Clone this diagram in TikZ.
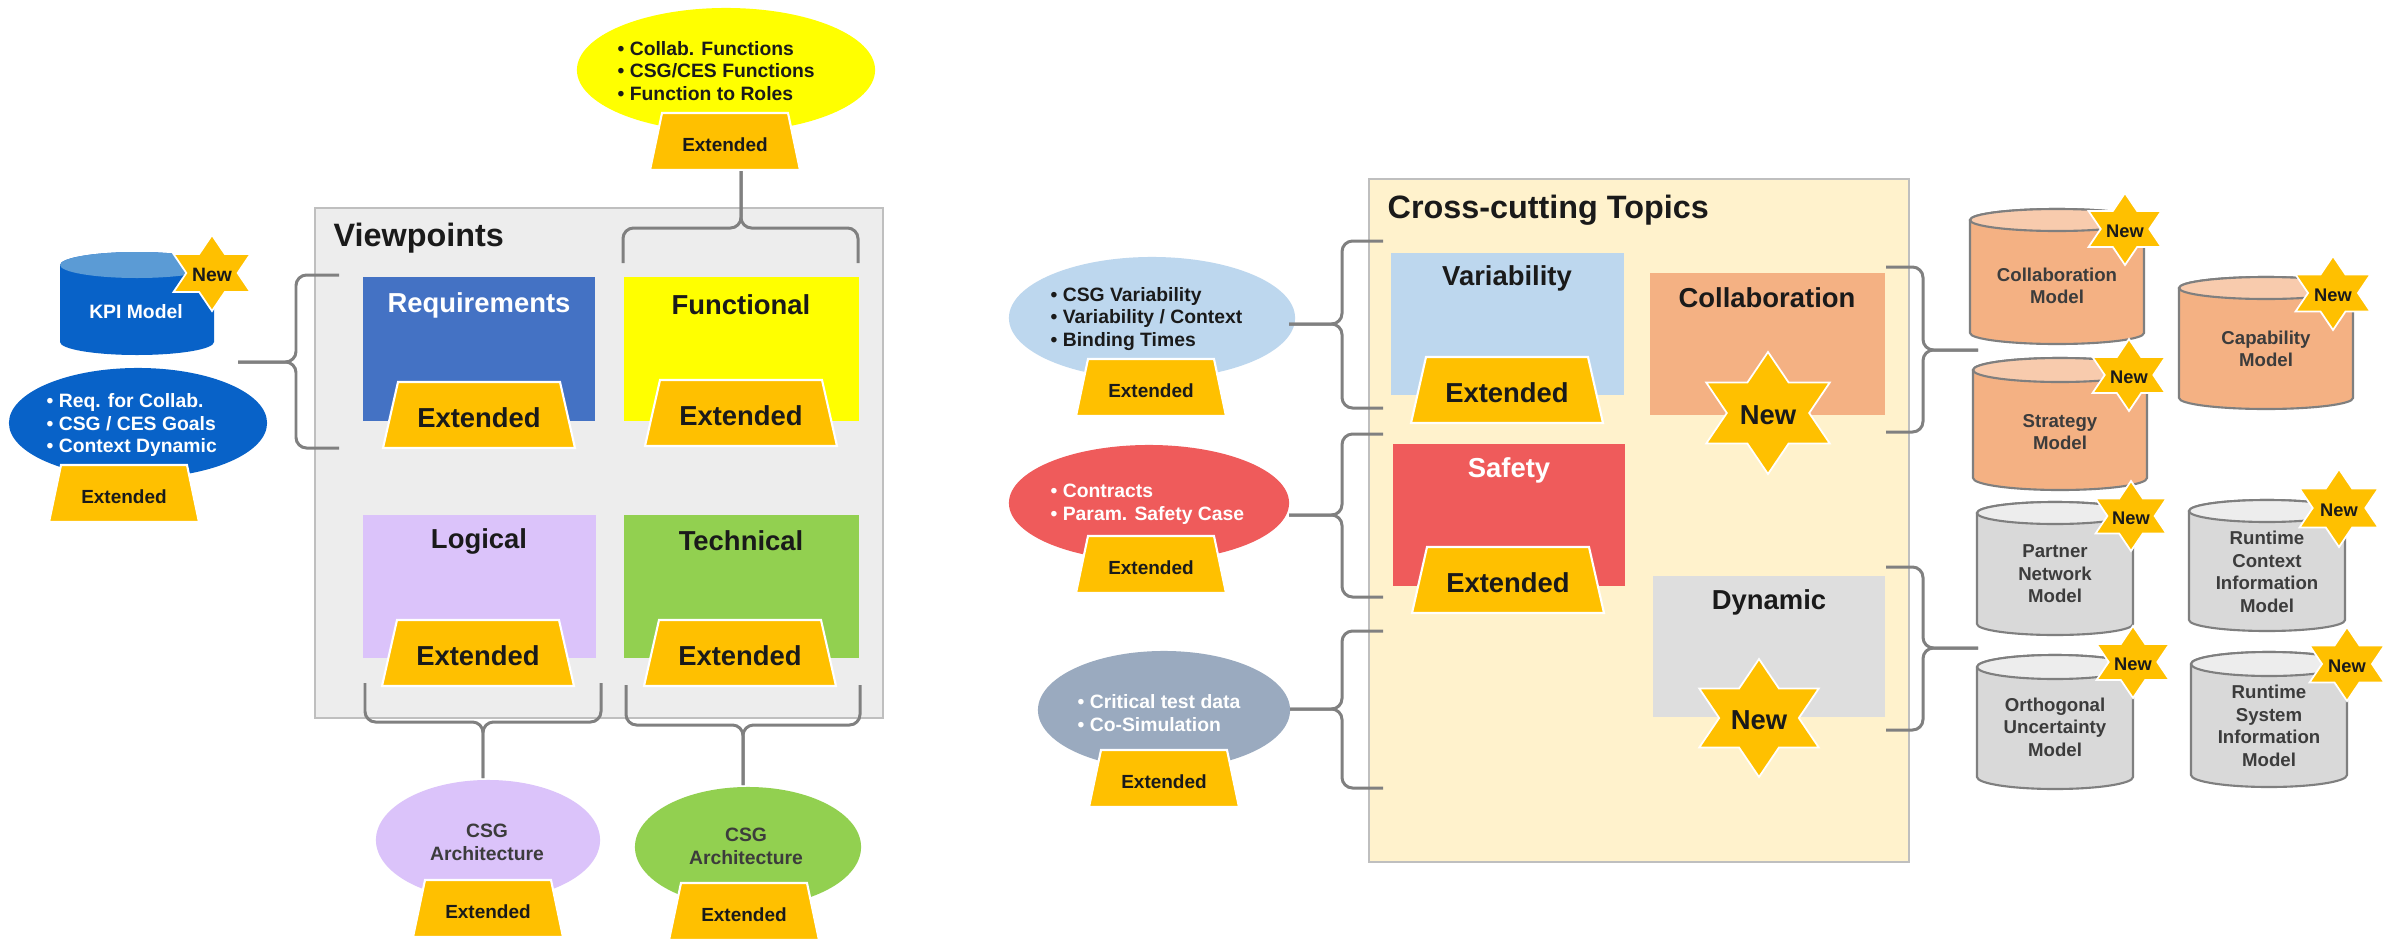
\documentclass[tikz,border=0pt]{standalone}
\usepackage{fontspec}
\setmainfont{Liberation Sans}
\usetikzlibrary{shapes.geometric}
\definecolor{gold}{HTML}{FFC000}
\definecolor{vyellow}{HTML}{FFFF00}
\definecolor{reqblue}{HTML}{4472C4}
\definecolor{lav}{HTML}{DBC3FA}
\definecolor{vgreen}{HTML}{92D050}
\definecolor{kpiblue}{HTML}{0862C8}
\definecolor{kpitopc}{HTML}{5B9BD5}
\definecolor{vpgray}{HTML}{EDEDED}
\definecolor{boxborder}{HTML}{BFBFBF}
\definecolor{cream}{HTML}{FFF2CC}
\definecolor{varblue}{HTML}{BDD7EE}
\definecolor{collabor}{HTML}{F4B183}
\definecolor{collabtop}{HTML}{F8CBAD}
\definecolor{safred}{HTML}{EF5B5B}
\definecolor{dyngray}{HTML}{DEDEDE}
\definecolor{gbell}{HTML}{9AAABF}
\definecolor{cylgray}{HTML}{D9D9D9}
\definecolor{cylgraytop}{HTML}{EDEDED}
\definecolor{cylline}{HTML}{7F7F7F}
\definecolor{bracegray}{HTML}{808080}
\definecolor{txtdark}{HTML}{1A1A1A}

\newcommand{\BigTrap}[3]{%
  \path[trapfill] ({#2-81},-#3) -- ({#2+81},-#3) -- ({#2+96},{-#3-66}) -- ({#2-96},{-#3-66}) -- cycle;
  \node[bigtext] (#1) at (#2,{-#3-36}) {Extended};}
\newcommand{\SmallTrap}[3]{%
  \path[trapfill] ({#2-63},-#3) -- ({#2+63},-#3) -- ({#2+75},{-#3-57}) -- ({#2-75},{-#3-57}) -- cycle;
  \node[smalltext] (#1) at (#2,{-#3-32}) {Extended};}
\newcommand{\StarNew}[5]{%
  \path[starfill, shift={(#2,-#3)}, scale=#4] (0,1) -- (0.338,0.5) -- (1.013,0.5) -- (0.675,0) -- (1.013,-0.5) -- (0.338,-0.5) -- (0,-1) -- (-0.338,-0.5) -- (-1.013,-0.5) -- (-0.675,0) -- (-1.013,0.5) -- (-0.338,0.5) -- cycle;
  \node[font=\bfseries\fontsize{#5}{#5}\selectfont, text=txtdark, inner sep=0] (#1) at (#2,{-#3-2}) {New};}
\newcommand{\CylShape}[7]{%
  \path[#7body] ({#2-#5},-#3) -- ({#2-#5},-#4) arc[start angle=180, end angle=360, x radius=#5*0.01cm, y radius=#6*0.01cm] -- ({#2+#5},-#3) arc[start angle=0, end angle=180, x radius=#5*0.01cm, y radius=#6*0.01cm] -- cycle;
  \path[#7top] (#2,-#3) ellipse [x radius=#5*0.01cm, y radius=#6*0.01cm];
  \coordinate (#1) at (#2,-#3);}

\begin{document}
\begin{tikzpicture}[x=0.01cm, y=0.01cm,
  bigtext/.style={font=\bfseries\fontsize{7.8}{9}\selectfont, text=txtdark, inner sep=0},
  smalltext/.style={font=\bfseries\fontsize{5.4}{6.4}\selectfont, text=txtdark, inner sep=0},
  listtext/.style={font=\bfseries\fontsize{5.5}{6.4}\selectfont, align=left, anchor=west, inner sep=0},
  cyltext/.style={font=\bfseries\fontsize{5.3}{6.4}\selectfont, align=center, text=txtdark!85, inner sep=0},
  titletext/.style={font=\bfseries\fontsize{9.2}{11}\selectfont, anchor=west, text=txtdark, inner sep=0},
  boxtitle/.style={font=\bfseries\fontsize{7.8}{9}\selectfont, text=txtdark, inner sep=0},
  trapfill/.style={fill=gold, draw=white, line width=0.6pt},
  starfill/.style={fill=gold, draw=white, line width=0.5pt},
  brace/.style={draw=bracegray, line width=0.85pt, rounded corners=3pt},
  ell/.style={ellipse, inner sep=0, draw=none},
  vbox/.style={rectangle, inner sep=0, outer sep=0, draw=none, anchor=north west},
  orbody/.style={fill=collabor, draw=cylline, line width=0.6pt},
  ortop/.style={fill=collabtop, draw=cylline, line width=0.6pt},
  grbody/.style={fill=cylgray, draw=cylline, line width=0.6pt},
  grtop/.style={fill=cylgraytop, draw=cylline, line width=0.6pt},
  kpibody/.style={fill=kpiblue},
  kpitop/.style={fill=kpitopc},
]
\useasboundingbox (0,0) rectangle (2399,-939);
\fill[white] (0,0) rectangle (2399,-939);

% ===================== LEFT: Viewpoints =====================
\node[vbox, fill=vpgray, draw=boxborder, line width=0.6pt, minimum width=5.68cm, minimum height=5.10cm] (vp) at (315,-208) {};
\node[titletext] (vptitle) at (333,-238) {Viewpoints};

\node[vbox, fill=reqblue, minimum width=2.32cm, minimum height=1.44cm] (req) at (363,-277) {};
\node[boxtitle, text=white] (reqt) at (479,-305) {Requirements};
\node[vbox, fill=vyellow, minimum width=2.35cm, minimum height=1.44cm] (func) at (624,-277) {};
\node[boxtitle] (funct) at (741,-305) {Functional};
\node[vbox, fill=lav, minimum width=2.33cm, minimum height=1.43cm] (logi) at (363,-515) {};
\node[boxtitle] (logit) at (479,-541) {Logical};
\node[vbox, fill=vgreen, minimum width=2.35cm, minimum height=1.43cm] (tech) at (624,-515) {};
\node[boxtitle] (techt) at (741,-541) {Technical};

\BigTrap{reqx}{479}{382}
\BigTrap{funcx}{741}{380}
\BigTrap{logix}{478}{620}
\BigTrap{techx}{740}{620}

% yellow ellipse on top
\node[ell, fill=vyellow, minimum width=2.98cm, minimum height=1.24cm] (yell) at (726,-70) {};
\node[listtext, text=txtdark] (yellt) at (617,-71) {• Collab. Functions\\• CSG/CES Functions\\• Function to Roles};
\SmallTrap{yellx}{725}{113}

% top brace
\coordinate (fbstem) at (741,-171);
\coordinate (fbmid) at (741,-228);
\coordinate (fbl) at (623,-263);
\coordinate (fbr) at (858,-263);
\draw[brace] (fbl) |- (fbmid) -- (fbstem);
\draw[brace] (fbr) |- (fbmid) -- (fbstem);

% KPI cylinder
\CylShape{kpi}{137}{265}{342}{77}{13}{kpi}
\node[font=\bfseries\fontsize{5.5}{6.4}\selectfont, text=white, inner sep=0] (kpit) at (136,-312) {KPI Model};
\StarNew{kpistar}{212}{273}{38}{5.5}

% blue ellipse
\node[ell, fill=kpiblue, minimum width=2.58cm, minimum height=1.10cm] (bell) at (138,-423) {};
\node[listtext, text=white] (bellt) at (46,-425) {• Req. for Collab.\\• CSG / CES Goals\\• Context Dynamic};
\SmallTrap{bellx}{124}{465}

% KPI brace
\coordinate (kbt) at (339,-275);
\coordinate (kbb) at (339,-448);
\coordinate (kbm) at (296,-362);
\coordinate (kbtip) at (238,-362);
\draw[brace] (kbt) -| (kbm) -- (kbtip);
\draw[brace] (kbb) -| (kbm) -- (kbtip);

% Logical brace
\coordinate (lbl) at (365,-683);
\coordinate (lbr) at (601,-683);
\coordinate (lbm) at (483,-722);
\coordinate (lbstem) at (483,-778);
\draw[brace] (lbl) |- (lbm) -- (lbstem);
\draw[brace] (lbr) |- (lbm) -- (lbstem);
% Technical brace
\coordinate (tbl) at (626,-685);
\coordinate (tbr) at (860,-685);
\coordinate (tbm) at (743,-725);
\coordinate (tbstem) at (743,-785);
\draw[brace] (tbl) |- (tbm) -- (tbstem);
\draw[brace] (tbr) |- (tbm) -- (tbstem);

% lavender / green ellipses
\node[ell, fill=lav, minimum width=2.24cm, minimum height=1.20cm] (lell) at (488,-840) {};
\node[cyltext, font=\bfseries\fontsize{5.5}{6.6}\selectfont] (lellt) at (487,-842) {CSG\\Architecture};
\SmallTrap{lellx}{488}{880}
\node[ell, fill=vgreen, minimum width=2.26cm, minimum height=1.20cm] (gell) at (748,-847) {};
\node[cyltext, font=\bfseries\fontsize{5.5}{6.6}\selectfont] (gellt) at (746,-846) {CSG\\Architecture};
\SmallTrap{gellx}{744}{883}

% ===================== MIDDLE: Cross-cutting =====================
\node[vbox, fill=cream, draw=boxborder, line width=0.6pt, minimum width=5.40cm, minimum height=6.83cm] (cc) at (1369,-179) {};
\node[titletext] (cctitle) at (1387,-210) {Cross-cutting Topics};

\node[vbox, fill=varblue, minimum width=2.33cm, minimum height=1.42cm] (var) at (1391,-253) {};
\node[boxtitle] (vart) at (1507,-278) {Variability};
\node[vbox, fill=collabor, minimum width=2.35cm, minimum height=1.42cm] (col) at (1650,-273) {};
\node[boxtitle] (colt) at (1767,-298) {Collaboration};
\node[vbox, fill=safred, minimum width=2.32cm, minimum height=1.42cm] (saf) at (1393,-444) {};
\node[boxtitle, text=white] (saft) at (1509,-470) {Safety};
\node[vbox, fill=dyngray, minimum width=2.32cm, minimum height=1.41cm] (dyn) at (1653,-576) {};
\node[boxtitle] (dynt) at (1769,-602) {Dynamic};

\BigTrap{varx}{1507}{357}
\BigTrap{safx}{1508}{547}
\StarNew{colstar}{1768}{413}{61}{7.8}
\StarNew{dynstar}{1759}{718}{59}{7.8}

% left ellipses
\node[ell, fill=varblue, minimum width=2.86cm, minimum height=1.22cm] (lbell) at (1152,-318) {};
\node[listtext, text=txtdark] (lbellt) at (1050,-319) {• CSG Variability\\• Variability / Context\\• Binding Times};
\SmallTrap{lbellx}{1151}{359}
\node[ell, fill=safred, minimum width=2.80cm, minimum height=1.16cm] (rell) at (1149,-503) {};
\node[listtext, text=white] (rellt) at (1050,-504) {• Contracts\\• Param. Safety Case};
\SmallTrap{rellx}{1151}{536}
\node[ell, fill=gbell, minimum width=2.52cm, minimum height=1.18cm] (gbell) at (1164,-710) {};
\node[listtext, text=white] (gbellt) at (1077,-713) {• Critical test data\\• Co-Simulation};
\SmallTrap{gbellx}{1164}{750}

% left braces
\coordinate (vbt) at (1383,-241);
\coordinate (vbb) at (1383,-408);
\coordinate (vbm) at (1342,-324);
\coordinate (vbtip) at (1289,-324);
\draw[brace] (vbt) -| (vbm) -- (vbtip);
\draw[brace] (vbb) -| (vbm) -- (vbtip);
\coordinate (sbt) at (1383,-434);
\coordinate (sbb) at (1383,-597);
\coordinate (sbm) at (1342,-515);
\coordinate (sbtip) at (1289,-515);
\draw[brace] (sbt) -| (sbm) -- (sbtip);
\draw[brace] (sbb) -| (sbm) -- (sbtip);
\coordinate (dbt) at (1383,-631);
\coordinate (dbb) at (1383,-788);
\coordinate (dbm) at (1342,-709);
\coordinate (dbtip) at (1290,-709);
\draw[brace] (dbt) -| (dbm) -- (dbtip);
\draw[brace] (dbb) -| (dbm) -- (dbtip);

% right braces
\coordinate (cbt) at (1886,-267);
\coordinate (cbb) at (1886,-432);
\coordinate (cbm) at (1923,-350);
\coordinate (cbtip) at (1978,-350);
\draw[brace] (cbt) -| (cbm) -- (cbtip);
\draw[brace] (cbb) -| (cbm) -- (cbtip);
\coordinate (ybt) at (1886,-567);
\coordinate (ybb) at (1886,-730);
\coordinate (ybm) at (1923,-648);
\coordinate (ybtip) at (1978,-648);
\draw[brace] (ybt) -| (ybm) -- (ybtip);
\draw[brace] (ybb) -| (ybm) -- (ybtip);

% ===================== RIGHT: cylinders =====================
\CylShape{cmc}{2057}{220}{333}{87}{11}{or}
\node[cyltext] (cmt) at (2057,-286) {Collaboration\\Model};
\StarNew{cmstar}{2125}{229}{36}{5.2}

\CylShape{capc}{2266}{288}{398}{87}{11}{or}
\node[cyltext] (capt) at (2266,-349) {Capability\\Model};
\StarNew{capstar}{2333}{293}{37}{5.2}

\CylShape{stc}{2060}{370}{478}{87}{12}{or}
\node[cyltext] (stt) at (2060,-432) {Strategy\\Model};
\StarNew{ststar}{2129}{375}{36}{5.2}

\CylShape{pnc}{2055}{513}{624}{78}{11}{gr}
\node[cyltext] (pnt) at (2055,-574) {Partner\\Network\\Model};
\StarNew{pnstar}{2131}{516}{35}{5.2}

\CylShape{rcc}{2267}{511}{620}{78}{11}{gr}
\node[cyltext] (rct) at (2267,-572) {Runtime\\Context\\Information\\Model};
\StarNew{rcstar}{2339}{508}{39}{5.2}

\CylShape{ouc}{2055}{667}{777}{78}{12}{gr}
\node[cyltext] (out) at (2055,-727) {Orthogonal\\Uncertainty\\Model};
\StarNew{oustar}{2133}{662}{36}{5.2}

\CylShape{rsc}{2269}{664}{775}{78}{12}{gr}
\node[cyltext] (rst) at (2269,-726) {Runtime\\System\\Information\\Model};
\StarNew{rsstar}{2347}{664}{37}{5.2}

\end{tikzpicture}
\end{document}
